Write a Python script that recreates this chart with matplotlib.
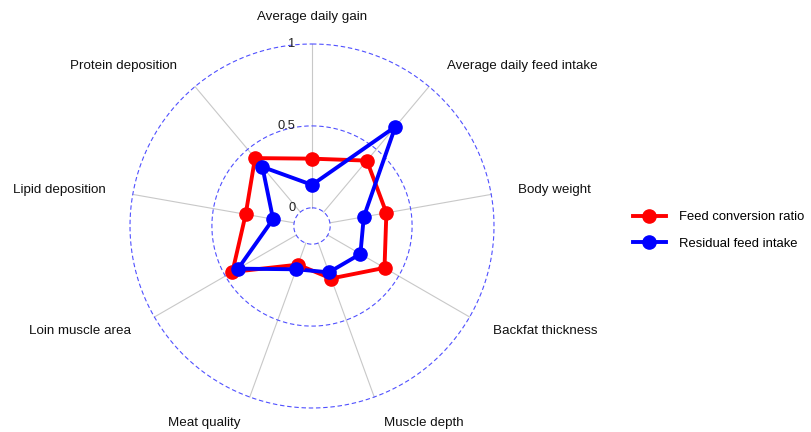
import numpy as np
import matplotlib.pyplot as plt
from matplotlib.lines import Line2D

plt.rcParams['font.family'] = ['Liberation Sans', 'DejaVu Sans']

TRAITS = ["Average daily gain", "Average daily feed intake", "Body weight",
          "Backfat thickness", "Muscle depth", "Meat quality",
          "Loin muscle area", "Lipid deposition", "Protein deposition"]
FCR = [0.30, 0.41, 0.35, 0.40, 0.23, 0.14, 0.45, 0.30, 0.43]
RFI = [0.14, 0.68, 0.21, 0.23, 0.19, 0.17, 0.41, 0.13, 0.36]
SERIES = ["Feed conversion ratio", "Residual feed intake"]
COLORS = ["#ff0000", "#0000ff"]
GRID_VALUES = [0, 0.5, 1]
GRID_LABELS = ["0", "0.5", "1"]

# ggradar-style centre offset
CENTRE = -1 / 9
PX = 163.8  # pixels per unit
CX, CY = 312, 226
W, H = 812, 432


def xy(values):
    ang = np.arange(len(TRAITS)) * 2 * np.pi / len(TRAITS)
    r = np.asarray(values) - CENTRE
    return r * np.sin(ang), r * np.cos(ang)


fig = plt.figure(figsize=(W / 100, H / 100), dpi=100)
ax = fig.add_axes([0, 0, 1, 1])
ax.set_xlim(-CX / PX, (W - CX) / PX)
ax.set_ylim(-(H - CY) / PX, CY / PX)
ax.axis("off")

# grid circles
t = np.linspace(0, 2 * np.pi, 400)
for g in GRID_VALUES:
    r = g - CENTRE
    ax.plot(r * np.sin(t), r * np.cos(t), color="#5050ff", lw=0.8,
            ls=(0, (4, 2.5)), zorder=1)

# axis lines
ang = np.arange(len(TRAITS)) * 2 * np.pi / len(TRAITS)
r0, r1 = GRID_VALUES[0] - CENTRE, GRID_VALUES[-1] - CENTRE
for a in ang:
    ax.plot([r0 * np.sin(a), r1 * np.sin(a)], [r0 * np.cos(a), r1 * np.cos(a)],
            color="#c8c8c8", lw=0.8, zorder=0.5)

# grid labels
for g, lab in zip(GRID_VALUES, GRID_LABELS):
    ax.text(-0.1, g - CENTRE, lab, ha="right", va="center", fontsize=9.3,
            color="#222222", zorder=2)

# axis labels
lr = 1.15 * (1 - CENTRE)
for a, name in zip(ang, TRAITS):
    x, y = lr * np.sin(a), lr * np.cos(a)
    if abs(x) < 1e-6:
        ha = "center"
    elif x > 0:
        ha = "left"
    else:
        ha = "right"
    ax.text(x, y, name, ha=ha, va="center", fontsize=9.6, color="#111111")

# series
for vals, col in zip([FCR, RFI], COLORS):
    x, y = xy(vals)
    x = np.append(x, x[0])
    y = np.append(y, y[0])
    ax.plot(x, y, color=col, lw=2.8, zorder=3)
    ax.plot(x[:-1], y[:-1], "o", color=col, ms=9.5, zorder=4)

handles = [Line2D([0], [0], color=c, lw=2.8, marker="o", ms=9.5) for c in COLORS]
fig.legend(handles, SERIES, loc="center left", bbox_to_anchor=(633 / W, 1 - 230.5 / H),
           frameon=False, fontsize=9.4, handlelength=2.5, handletextpad=1.05,
           labelspacing=1.1, borderpad=0, borderaxespad=0)

fig.savefig("out.png", dpi=100)
